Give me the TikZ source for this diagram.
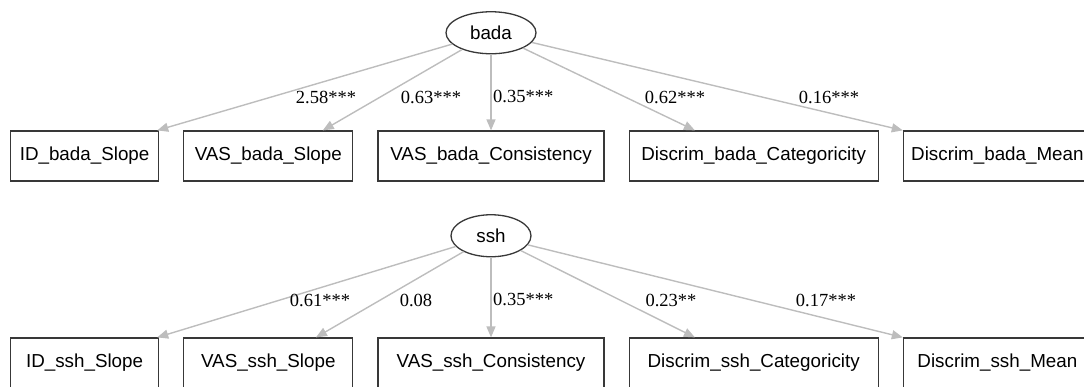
\documentclass[tikz,border=0pt]{standalone}
\usepackage{fontspec}
\setmainfont{Liberation Serif}
\setsansfont{Liberation Sans}
\usepackage{xcolor}
\usetikzlibrary{arrows.meta,positioning,calc,shapes.geometric}
\definecolor{edgegray}{gray}{0.74}
\definecolor{linegray}{gray}{0.22}
\begin{document}
\begin{tikzpicture}[x=1pt,y=-1pt,font=\sffamily\fontsize{18.8}{22}\selectfont,box/.style={draw=linegray,line width=1.2pt,minimum height=50pt,minimum width=#1,inner xsep=6pt},latent/.style={ellipse,draw=linegray,line width=1.3pt,minimum height=42pt,inner sep=0pt},arrow/.style={draw=edgegray,line width=1.4pt,-{Triangle[length=11pt,width=9pt]}},coef/.style={font=\rmfamily\fontsize{18.5}{22}\selectfont,inner sep=0pt}]
\useasboundingbox (0,0) rectangle (1084,386);
% bada
\node[box=148pt,anchor=west] (idb) at (10,156) {ID\_bada\_Slope};
\node[box=169pt,right=24pt of idb] (vsb) {VAS\_bada\_Slope};
\node[box=226pt,right=24pt of vsb] (vcb) {VAS\_bada\_Consistency};
\node[box=249pt,right=24pt of vcb] (dcb) {Discrim\_bada\_Categoricity};
\node[box=188pt,right=24pt of dcb] (dmb) {Discrim\_bada\_Mean};
\node[latent,minimum width=90pt,above=76pt of vcb] (bada) {bada};
\draw[arrow] (bada) -- ($(idb.north east)+(-2,0)$);\draw[arrow] (bada) -- ($(vsb.north west)!0.82!(vsb.north east)$);\draw[arrow] (bada) -- (vcb);
\draw[arrow] (bada) -- ($(dcb.north west)!0.265!(dcb.north east)$);\draw[arrow] (bada) -- (dmb.north west);
\node[coef] (cb1) at (326,97) {2.58***};
\node[coef] (cb2) at (431,97) {0.63***};
\node[coef,anchor=west] (cb3) at ($(vcb.north)+(2,-34)$) {0.35***};
\node[coef] (cb4) at (675,97) {0.62***};
\node[coef] (cb5) at (829,97) {0.16***};
% ssh
\node[box=148pt,anchor=west] (ids) at (10,363) {ID\_ssh\_Slope};
\node[box=169pt,right=24pt of ids] (vss) {VAS\_ssh\_Slope};
\node[box=226pt,right=24pt of vss] (vcs) {VAS\_ssh\_Consistency};
\node[box=249pt,right=24pt of vcs] (dcs) {Discrim\_ssh\_Categoricity};
\node[box=188pt,right=24pt of dcs] (dms) {Discrim\_ssh\_Mean};
\node[latent,minimum width=80pt,above=80pt of vcs] (ssh) {ssh};
\draw[arrow] (ssh) -- ($(ids.north east)+(-2,0)$);\draw[arrow] (ssh) -- ($(vss.north west)!0.78!(vss.north east)$);\draw[arrow] (ssh) -- (vcs);
\draw[arrow] (ssh) -- ($(dcs.north west)!0.265!(dcs.north east)$);\draw[arrow] (ssh) -- (dms.north west);
\node[coef] (cs1) at (320,300) {0.61***};
\node[coef] (cs2) at (416,300) {0.08};
\node[coef,anchor=west] (cs3) at ($(vcs.north)+(2,-38)$) {0.35***};
\node[coef] (cs4) at (671,300) {0.23**};
\node[coef] (cs5) at (826,300) {0.17***};
\end{tikzpicture}
\end{document}
